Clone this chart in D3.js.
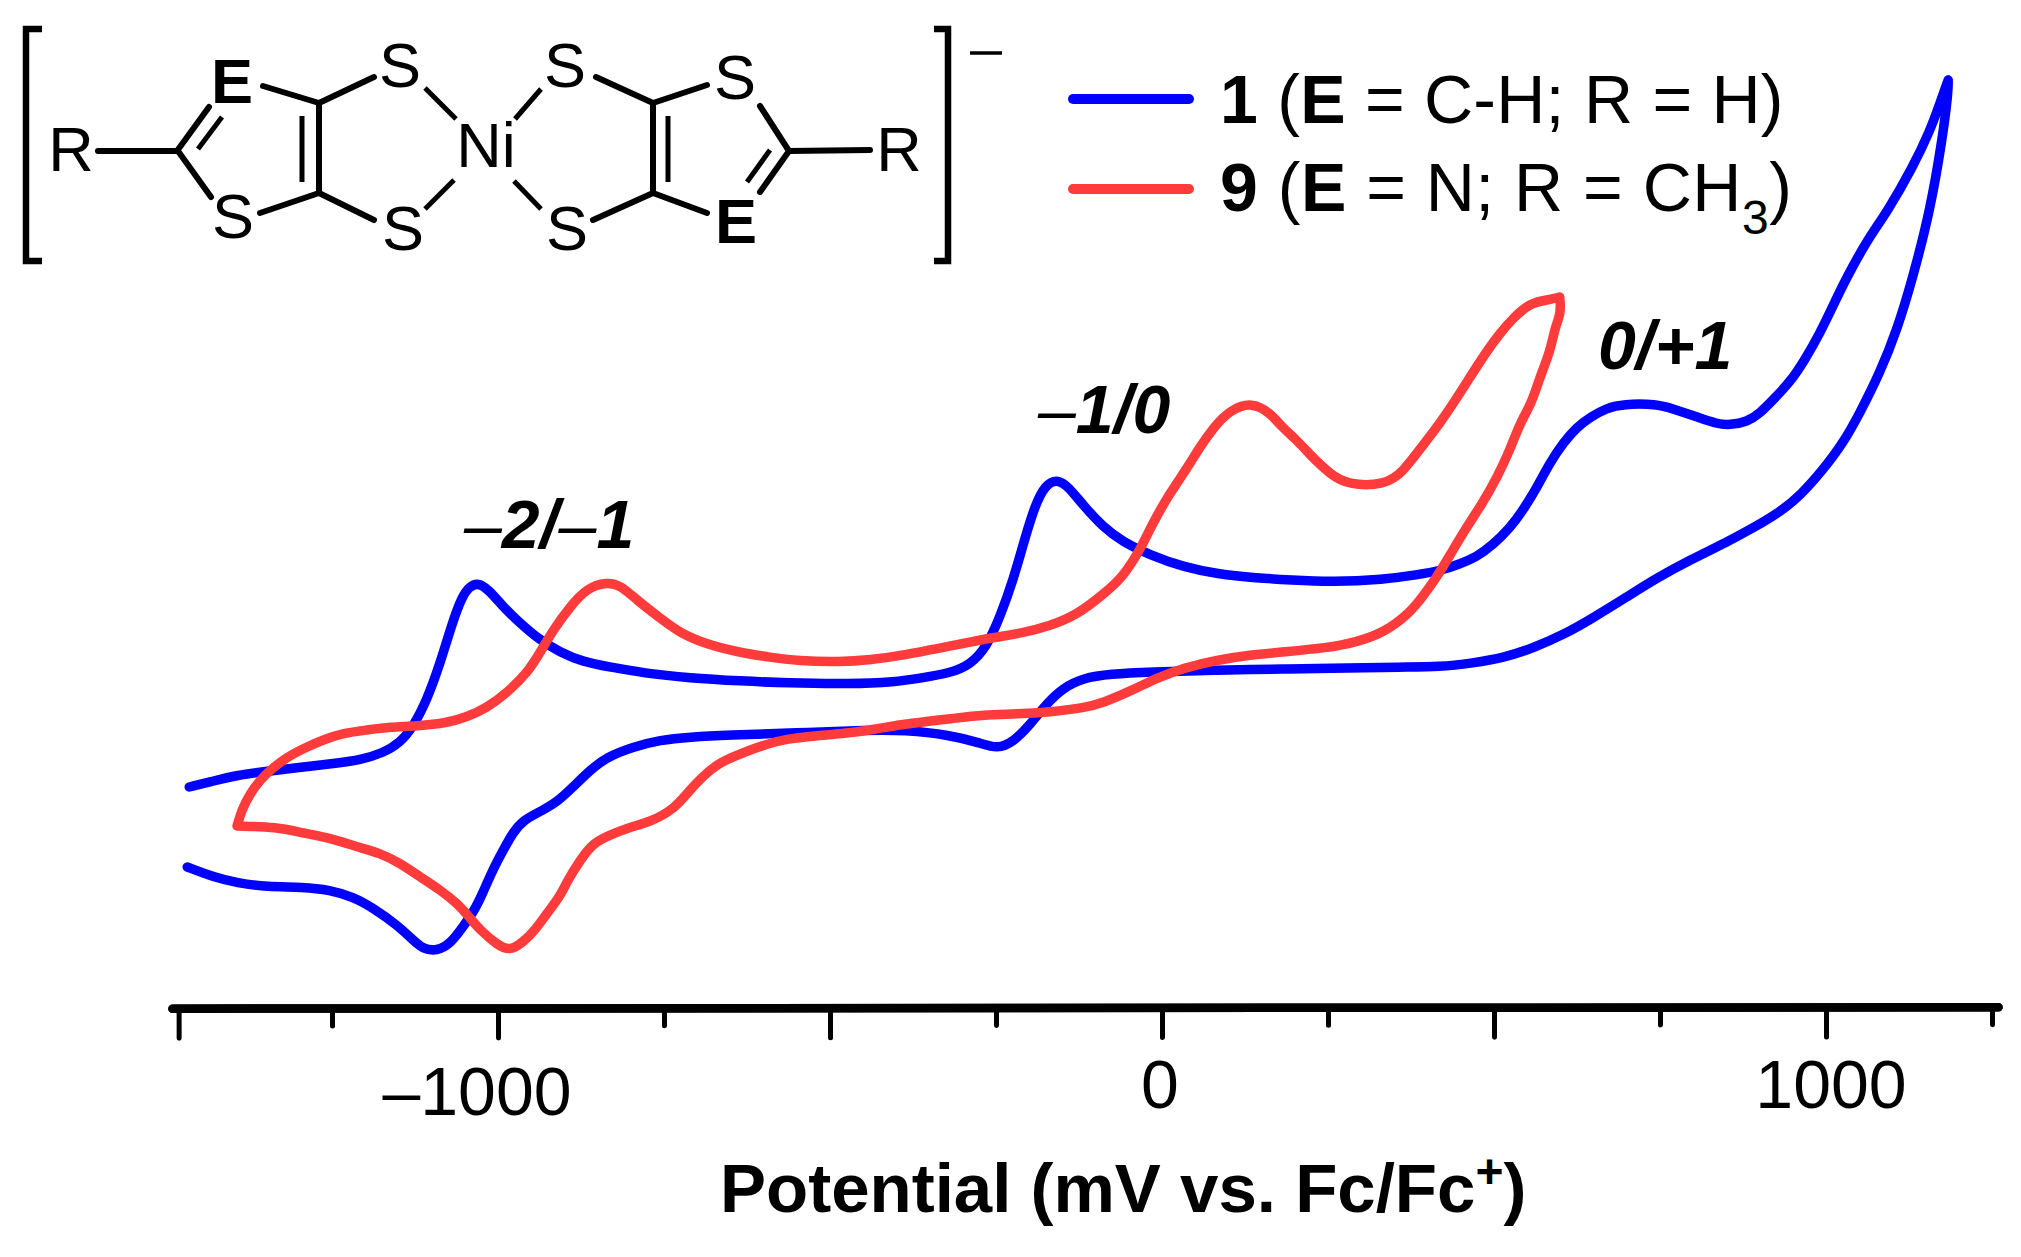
<!DOCTYPE html>
<html>
<head>
<meta charset="utf-8">
<script src="https://cdn.jsdelivr.net/npm/d3@7"></script>
<style>
html,body{margin:0;padding:0;background:#fff}
svg{display:block}
text{font-family:"Liberation Sans",Arial,sans-serif;fill:#000}
</style>
</head>
<body>
<svg id="chart" width="2021" height="1257"></svg>
<script>
// Complex 1: potential (mV) and current (arbitrary units), one full scan
const complex1Potential = [-1465,-1434,-1393,-1343,-1294,-1242,-1208,-1173,-1148,-1128,-1107,-1087,-1069,-1054,-1042,-1030,-1015,-992,-967,-937,-907,-872,-831,-782,-711,-634,-566,-470,-402,-363,-319,-289,-264,-244,-224,-206,-191,-176,-158,-142,-119,-89,-59,-18,32,83,143,193,258,333,384,423,444,474,498,524,544,565,584,604,625,645,670,694,745,770,806,836,855,881,901,920,946,968,991,1009,1029,1062,1092,1131,1157,1169,1184,
 1184,1175,1157,1131,1107,1081,1051,1026,994,962,931,890,851,795,745,700,649,604,559,514,468,419,358,283,182,83,-18,-78,-119,-149,-173,-199,-224,-248,-274,-319,-389,-440,-553,-654,-711,-756,-797,-836,-861,-887,-911,-932,-962,-977,-992,-1008,-1023,-1035,-1053,-1072,-1092,-1113,-1128,-1152,-1188,-1218,-1253,-1294,-1348,-1393,-1429,-1468];
const complex1Current = [21.9,22.4,23.1,23.5,23.9,24.3,24.6,25.3,26.3,27.9,30.6,34.3,38.3,41.0,42.0,42.3,41.7,39.9,38.3,36.6,35.4,34.4,33.9,33.3,32.8,32.5,32.3,32.2,32.4,32.8,33.3,34.1,35.9,38.9,42.6,46.9,50.1,52.1,52.7,52.0,50.1,47.9,46.4,45.1,43.9,43.2,42.8,42.6,42.4,42.65,43.1,43.6,44.1,44.9,46.1,47.8,49.6,51.9,54.3,56.3,57.9,58.9,59.8,60.2,60.2,59.7,58.9,58.2,58.1,58.4,59.3,60.6,62.4,64.6,67.3,69.8,72.6,76.6,79.4,83.9,87.6,89.8,92.6,
 91.3,86.6,79.6,72.9,67.6,63.3,59.3,56.3,53.5,51.1,49.4,47.8,46.4,44.6,42.8,40.9,38.8,37.1,35.8,34.8,34.3,33.9,33.9,33.8,33.7,33.6,33.4,33.2,32.8,31.8,30.3,28.1,26.4,25.7,26.3,27.1,27.6,27.6,27.3,27.1,26.9,26.6,25.9,24.9,23.6,21.9,20.4,19.6,18.6,17.4,15.6,13.6,11.3,9.6,7.9,6.2,5.5,5.7,6.6,8.1,9.8,10.9,11.6,11.9,11.9,12.3,12.9,13.9];

// Complex 9: closed loop
const complex9Potential = [-1393,-1386,-1373,-1358,-1343,-1318,-1288,-1264,-1233,-1197,-1163,-1122,-1077,-1047,-1017,-985,-956,-937,-917,-892,-866,-836,-816,-791,-756,-726,-687,-640,-593,-547,-485,-440,-387,-319,-259,-209,-169,-128,-86,-59,-33,-14,12,38,57,77,102,136,163,182,203,223,253,280,336,363,393,419,449,483,509,529,554,581,599,
 601,592,584,569,557,539,524,505,483,453,434,411,392,373,336,294,248,182,133,83,32,-8,-44,-89,-119,-169,-218,-270,-309,-389,-440,-465,-572,-620,-667,-694,-711,-736,-771,-806,-831,-857,-876,-895,-907,-926,-944,-962,-982,-1001,-1027,-1042,-1062,-1087,-1117,-1148,-1178,-1212,-1253,-1294,-1333,-1393];
const complex9Current = [18.0,19.6,21.3,22.6,23.6,24.9,25.9,26.6,27.3,27.6,27.9,28.0,28.3,28.9,29.8,31.4,33.3,35.3,37.6,39.9,41.8,42.4,42.1,40.6,38.8,37.3,36.2,35.4,34.9,34.5,34.4,34.6,35.1,36.0,36.8,37.3,38.0,39.1,41.3,42.9,45.6,48.3,51.3,53.8,55.9,57.8,59.6,60.4,59.3,57.8,56.6,55.1,53.2,52.1,52.1,53.4,56.1,58.3,61.3,64.9,67.3,68.8,70.3,70.6,70.9,
 69.3,67.9,65.3,62.9,60.3,58.3,55.6,52.9,50.3,47.3,45.1,42.6,40.9,39.3,37.4,36.4,35.8,35.4,35.1,34.6,33.8,32.8,31.6,30.3,29.8,29.4,29.2,29.1,28.8,28.2,27.6,27.3,26.8,25.6,24.4,22.8,21.6,19.6,18.4,17.8,17.1,16.3,14.6,12.6,10.9,9.3,7.6,6.4,5.5,6.1,7.6,8.8,10.3,11.6,12.9,14.3,15.3,15.9,16.8,17.3,17.9,18.0];

const majorTicks = [-1481,-1000,-500,0,500,1000];
const minorTicks = [-1250,-750,-250,250,750,1250];
const labelledTicks = [-1000,0,1000];
const axisExtent = [-1491,1259];
const axisTitle = "Potential (mV vs. Fc/Fc";
const waveLabels = ["–2/–1","–1/0","0/+1"];

const svg = d3.select("#chart");
const W = 2021, H = 1257;
svg.append("rect").attr("width",W).attr("height",H).attr("fill","#fff");

const x = d3.scaleLinear().domain([-1000,1000]).range([498,1826]);
const y = d3.scaleLinear().domain([0,100]).range([1006,6]);
const BLUE = "#0000ff", RED = "#ff3b3b";

// ---- curves: each scan is split at its switching point so the tip stays sharp ----
const line = d3.line().x(d=>x(d[0])).y(d=>y(d[1])).curve(d3.curveBasis);
function scanPath(series){
  const i = d3.maxIndex(series, d=>d[1]);
  return line(series.slice(0,i+1)) + line(series.slice(i));
}
const series1 = d3.zip(complex1Potential, complex1Current);
const series9 = d3.zip(complex9Potential, complex9Current);
svg.append("path").attr("d",scanPath(series1)).attr("fill","none").attr("stroke",BLUE)
  .attr("stroke-width",9.5).attr("stroke-linecap","round").attr("stroke-linejoin","round");
svg.append("path").attr("d",scanPath(series9)).attr("fill","none").attr("stroke",RED)
  .attr("stroke-width",9.5).attr("stroke-linecap","round").attr("stroke-linejoin","round");

// ---- axis ----
const axisScale = x.copy().domain(axisExtent).range(axisExtent.map(x));
const axisG = svg.append("g").attr("transform","translate(0,1007.5) rotate(-0.04 1085 0)");
axisG.append("g").call(d3.axisBottom(axisScale).tickValues(majorTicks).tickSizeOuter(0).tickSizeInner(30).tickFormat(""));
axisG.append("g").call(d3.axisBottom(axisScale).tickValues(minorTicks).tickSizeOuter(0).tickSizeInner(18).tickFormat(""));
axisG.selectAll(".domain").attr("stroke","#000").attr("stroke-width",8.5).attr("stroke-linecap","round");
axisG.selectAll(".tick line").attr("stroke","#000").attr("stroke-width",5).attr("stroke-linecap","round");

const tickLabelNudge = {"-1000":[-21,1115],"0":[-2,1108],"1000":[5,1108]};
svg.append("g").selectAll("text").data(labelledTicks).join("text")
  .attr("x",d=>x(d)+tickLabelNudge[d][0]).attr("y",d=>tickLabelNudge[d][1])
  .attr("text-anchor","middle").attr("font-size",68)
  .text(d=>String(d).replace("-","–"));

// axis title
const title = svg.append("text").attr("x",720).attr("y",1212).attr("font-size",69).attr("font-weight","bold");
title.append("tspan").text(axisTitle);
title.append("tspan").attr("font-size",48).attr("dy",-24).text("+");
title.append("tspan").attr("dy",24).text(")");

// ---- wave annotations ----
const wavePos = [[464,548],[1038,433],[1598,369]];
const waves = svg.append("g").selectAll("text").data(waveLabels).join("text")
  .attr("x",(d,i)=>wavePos[i][0]).attr("y",(d,i)=>wavePos[i][1])
  .attr("font-size",68).attr("font-weight","bold").attr("font-style","italic");
waves.each(function(d){
  const t = d3.select(this);
  d.split(/(–)/).filter(Boolean).forEach(p=>{
    const s = t.append("tspan").text(p);
    if(p==="–") s.attr("font-weight","normal");
  });
});

// ---- legend ----
function legendRow(yLine, yBase, color, parts, spacing){
  svg.append("line").attr("x1",1073).attr("x2",1189).attr("y1",yLine).attr("y2",yLine)
    .attr("stroke",color).attr("stroke-width",10).attr("stroke-linecap","round");
  const t = svg.append("text").attr("x",1220).attr("y",yBase).attr("font-size",68)
    .attr("xml:space","preserve").attr("letter-spacing",spacing);
  parts.forEach(p=>{
    const s = t.append("tspan").text(p.t);
    if(p.b) s.attr("font-weight","bold");
    if(p.sub) s.attr("font-size",48).attr("dy",23);
    if(p.up) s.attr("dy",-23);
  });
}
legendRow(99,122.5,BLUE,[{t:"1",b:1},{t:" ("},{t:"E",b:1},{t:" = C-H; R = H)"}],0.25);
legendRow(189,211,RED,[{t:"9",b:1},{t:" ("},{t:"E",b:1},{t:" = N; R = CH"},{t:"3",sub:1},{t:")",up:1}],0.5);

// ---- structure inset ----
const mol = svg.append("g");
const bondsThick = [
 [98,151,177,151],[177,151,209,107],[178,151,211,197],[263,86,319,103],[319,103,374,77],[319,103,319,193],
 [260,213,319,193],[319,193,374,220],[596,77,653,103],[653,103,707,85],[653,103,653,193],[593,220,653,193],
 [653,193,707,213],[760,106,789,151],[789,151,870,150],[789,151,760,192]];
const bondsThin = [
 [198,149,222,117],[302,116,302,182],[425,88,456,119],[454,180,425,209],[515,119,541,89],[514,181,541,209],
 [668,116,668,182],[770,150,747,182]];
mol.selectAll("line.a").data(bondsThick).join("line").attr("class","a")
  .attr("x1",d=>d[0]).attr("y1",d=>d[1]).attr("x2",d=>d[2]).attr("y2",d=>d[3])
  .attr("stroke","#000").attr("stroke-width",6).attr("stroke-linecap","round");
mol.selectAll("line.b").data(bondsThin).join("line").attr("class","b")
  .attr("x1",d=>d[0]).attr("y1",d=>d[1]).attr("x2",d=>d[2]).attr("y2",d=>d[3])
  .attr("stroke","#000").attr("stroke-width",5);
const atoms = [
 ["R",71,171,0],["E",232,103,1],["S",400,87,0],["S",233,238,0],["S",403,250,0],["Ni",486,167,0],
 ["S",565,87,0],["S",735,99,0],["S",567,250,0],["E",736,243,1],["R",899,171,0]];
mol.selectAll("text").data(atoms).join("text")
  .attr("x",d=>d[1]).attr("y",d=>d[2]).attr("text-anchor","middle")
  .attr("font-size",63).attr("font-weight",d=>d[3]?"bold":"normal").text(d=>d[0]);
mol.append("path").attr("d","M42,29H26V261H42").attr("fill","none").attr("stroke","#000").attr("stroke-width",6.5);
mol.append("path").attr("d","M934,29H948V261H934").attr("fill","none").attr("stroke","#000").attr("stroke-width",6.5);
mol.append("line").attr("x1",970).attr("x2",1002).attr("y1",53).attr("y2",53).attr("stroke","#000").attr("stroke-width",3.5);
</script>
</body>
</html>
